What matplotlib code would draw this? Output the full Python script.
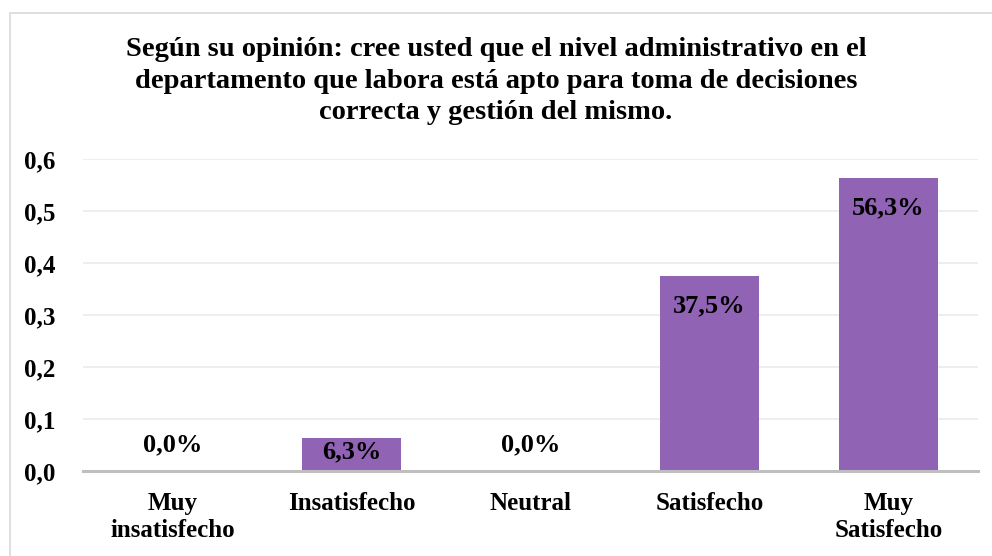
import matplotlib.pyplot as plt
from matplotlib.patches import Rectangle

# data
categories = ["Muy\ninsatisfecho", "Insatisfecho", "Neutral", "Satisfecho", "Muy\nSatisfecho"]
values = [0.0, 0.063, 0.0, 0.375, 0.563]
value_labels = ["0,0%", "6,3%", "0,0%", "37,5%", "56,3%"]
yticks = [0.0, 0.1, 0.2, 0.3, 0.4, 0.5, 0.6]
ytick_labels = ["0,0", "0,1", "0,2", "0,3", "0,4", "0,5", "0,6"]

title = ("Según su opinión: cree usted que el nivel administrativo en el\n"
         "departamento que labora está apto para toma de decisiones\n"
         "correcta y gestión del mismo.")

plt.rcParams['font.family'] = ['Liberation Serif', 'DejaVu Serif']
plt.rcParams['font.weight'] = 'bold'

W, H = 992, 556
fig = plt.figure(figsize=(W / 100, H / 100), dpi=100)

# outer chart border (only top/left visible in the reference)
fig.patches.append(Rectangle((10 / W, -0.1), 1.2, 1.1 - 13 / H, transform=fig.transFigure,
                             fill=False, edgecolor='#d9d9d9', linewidth=1.2))

ax = fig.add_axes([83 / W, 1 - 471 / H, (978 - 83) / W, (471 - 159) / H])

x = range(len(categories))
ax.bar(x, values, width=0.55, color='#9163b4', zorder=2)

ax.set_xlim(-0.5, len(categories) - 0.5)
ax.set_ylim(0, 0.6)
ax.set_yticks(yticks)
ax.set_yticklabels(ytick_labels, fontsize=18, fontweight='bold')
ax.set_xticks(list(x))
ax.set_xticklabels(categories, fontsize=18, fontweight='bold', linespacing=1.25)
ax.tick_params(axis='both', length=0)
ax.tick_params(axis='y', pad=20)
ax.tick_params(axis='x', pad=15)

ax.grid(axis='y', color='#ebebeb', linewidth=1.2, zorder=0)
for s in ['top', 'right', 'left']:
    ax.spines[s].set_visible(False)
ax.spines['bottom'].set_color('#bfbfbf')
ax.spines['bottom'].set_linewidth(2.2)
ax.spines['bottom'].set_zorder(3)

# labels: inside end of bar, pushed up when the bar is too short
for i, (v, lab) in enumerate(zip(values, value_labels)):
    if v == 0:
        ypos = 0.05
    else:
        ypos = max(v - 0.057, 0.036)
    ax.text(i, ypos, lab, ha='center', va='center', fontsize=19, fontweight='bold',
            color='black', zorder=4)

fig.text(0.5, 1 - 81 / H, title, ha='center', va='center', fontsize=20.5,
         fontweight='bold', linespacing=1.35)

fig.savefig('out.png', dpi=100)
